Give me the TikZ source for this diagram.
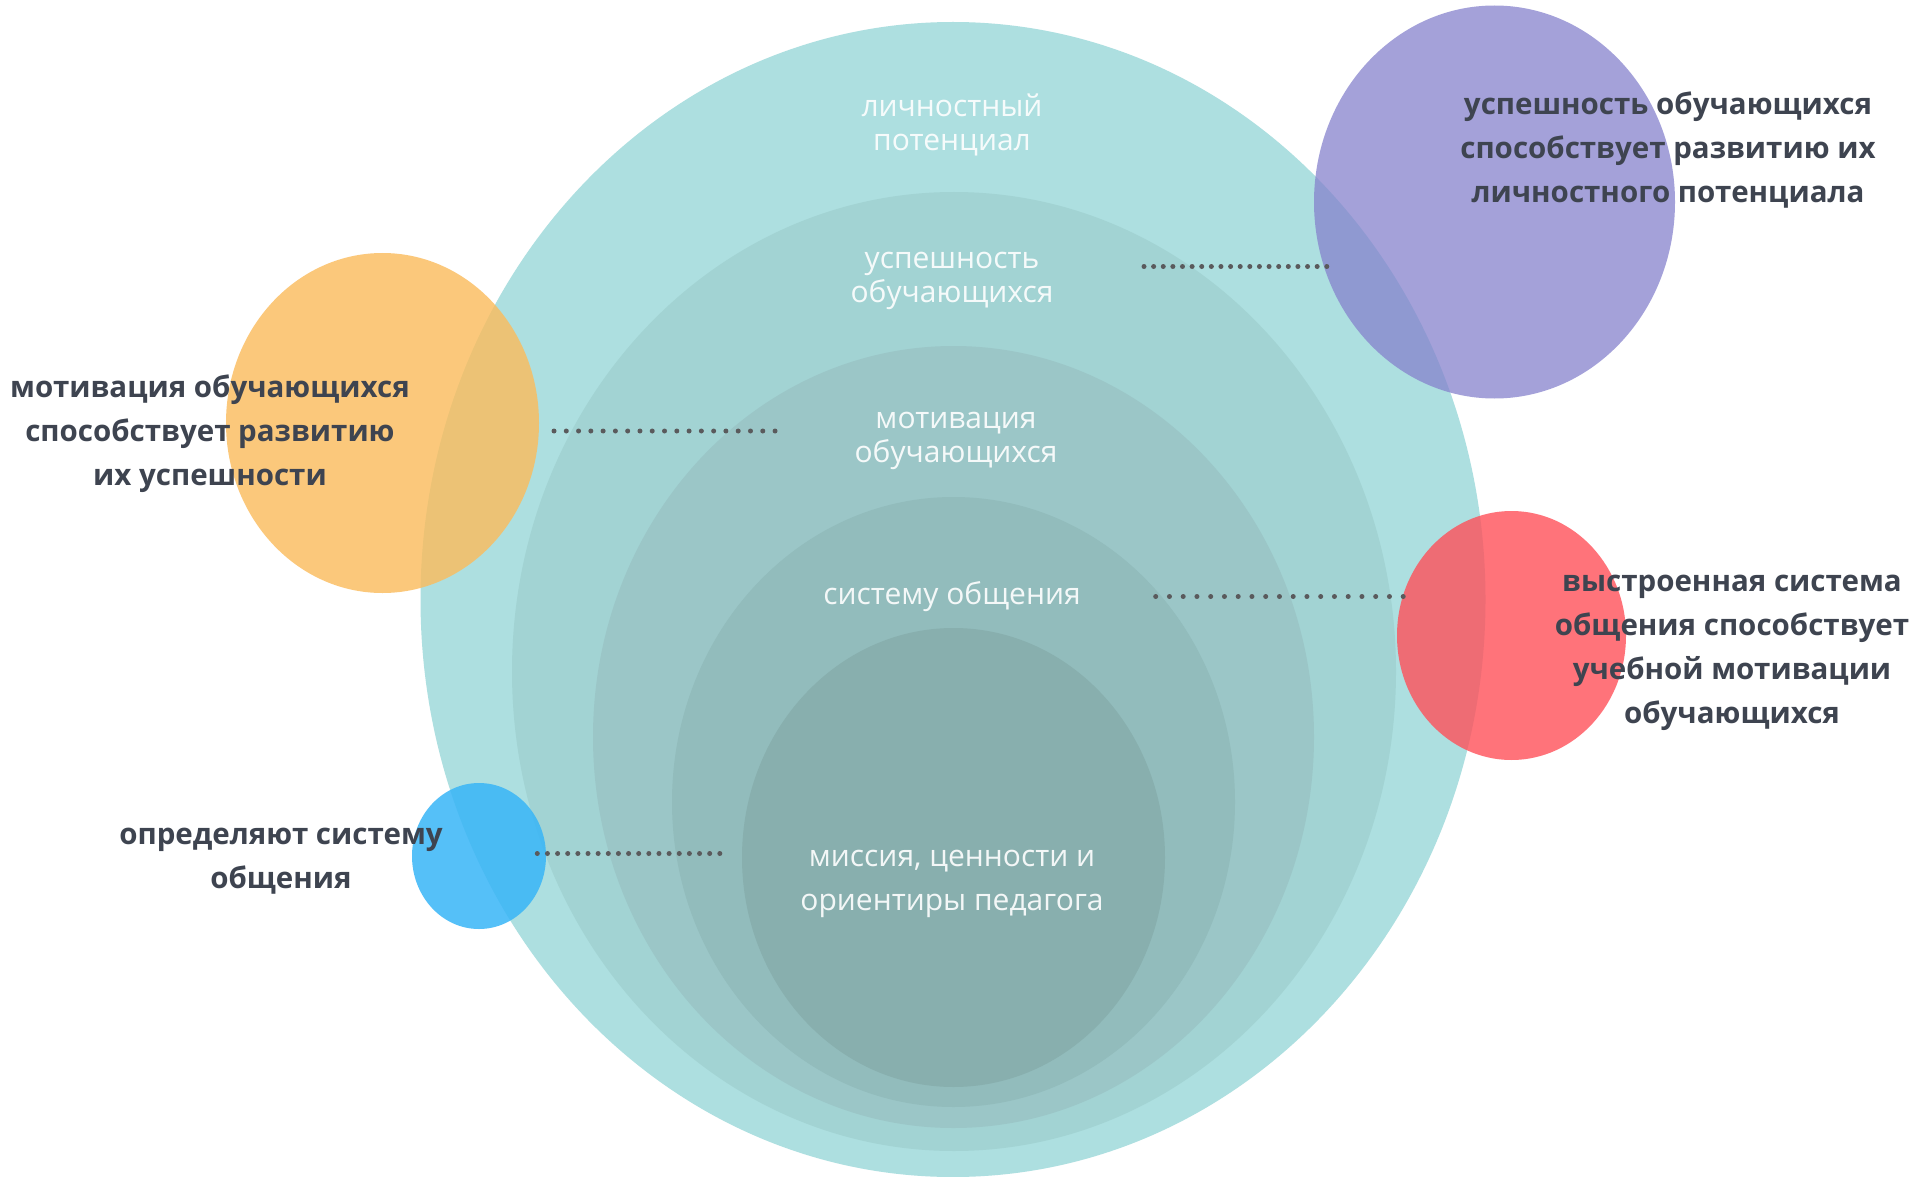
\documentclass[tikz,border=0pt]{standalone}
\usepackage{fontspec}
\setmainfont{Open Sans}
\usetikzlibrary{shapes.geometric}
\definecolor{lv1}{RGB}{173,223,224}
\definecolor{lv2}{RGB}{162,211,211}
\definecolor{lv3}{RGB}{155,198,199}
\definecolor{lv4}{RGB}{146,188,188}
\definecolor{lv5}{RGB}{136,175,174}
\definecolor{cpurple}{RGB}{134,130,205}
\definecolor{corange}{RGB}{251,188,93}
\definecolor{cred}{RGB}{255,80,89}
\definecolor{cblue}{RGB}{56,181,247}
\definecolor{txtdark}{RGB}{62,68,80}
\definecolor{dotgray}{RGB}{90,90,92}
\tikzset{
  blob/.style={ellipse, inner sep=0pt, outer sep=0pt, draw=none},
  dotline/.style={line width=5pt, line cap=round, dash pattern=on 0pt off #1pt, draw=dotgray},
  outlabel/.style={align=center, text=txtdark, font=\fontsize{29.5}{44}\selectfont\bfseries, inner sep=0pt},
  inlabel/.style={align=center, text=white, text opacity=0.9, font=\fontsize{30}{34}\selectfont, inner sep=0pt},
}
\begin{document}
\begin{tikzpicture}[x=1pt,y=-1pt]
\useasboundingbox (0,0) rectangle (1917,1177);
\fill[white] (0,0) rectangle (1917,1177);
% concentric levels
\node[blob, fill=lv1, minimum width=1065pt, minimum height=1155pt] (L1) at (953,599.5) {};
\node[blob, fill=lv2, minimum width=884pt, minimum height=959pt] (L2) at (954,671.5) {};
\node[blob, fill=lv3, minimum width=721pt, minimum height=782pt] (L3) at (953.5,737) {};
\node[blob, fill=lv4, minimum width=563pt, minimum height=610pt] (L4) at (953.5,802) {};
\node[blob, fill=lv5, minimum width=423pt, minimum height=459pt] (L5) at (953.5,857.5) {};
% side circles
\node[blob, fill=cpurple, fill opacity=0.75, minimum width=361pt, minimum height=393pt] (P) at (1494.5,202) {};
\node[blob, fill=corange, fill opacity=0.81, minimum width=313pt, minimum height=340pt] (O) at (382.5,423) {};
\node[blob, fill=cred, fill opacity=0.8, minimum width=229pt, minimum height=249pt] (R) at (1511.5,635.5) {};
\node[blob, fill=cblue, fill opacity=0.85, minimum width=134pt, minimum height=146pt] (B) at (479,856) {};
% connector ends
\coordinate (pa) at (1144,266.5);
\coordinate (pb) at (1327,266.5);
\coordinate (oa) at (554,431);
\coordinate (ob) at (775.3,431);
\coordinate (ra) at (1155.7,596.5);
\coordinate (rb) at (1403.3,596.5);
\coordinate (ba) at (537.3,853.5);
\coordinate (bb) at (720,853.5);
\draw[dotline=9.62] (pa) -- (pb);
\draw[dotline=12.28] (oa) -- (ob);
\draw[dotline=13.75] (ra) -- (rb);
\draw[dotline=10.14] (ba) -- (bb);
% inner labels
\node[inlabel] (t1) at (952,125) {личностный\\потенциал};
\node[inlabel] (t2) at (952,281) {успешность\\обучающихся};
\node[inlabel] (t3) at (956,440.5) {мотивация\\обучающихся};
\node[inlabel] (t4) at (952,597) {систему общения};
\node[inlabel, font=\fontsize{30}{44}\selectfont] (t5) at (952,884) {миссия, ценности и\\ориентиры педагога};
% outer labels
\node[outlabel] (s1) at (210,434) {мотивация обучающихся\\способствует развитию\\их успешности};
\node[outlabel] (s2) at (1668,150.5) {успешность обучающихся\\способствует развитию их\\личностного потенциала};
\node[outlabel] (s3) at (1732,653) {выстроенная система\\общения способствует\\учебной мотивации\\обучающихся};
\node[outlabel] (s4) at (281,861.5) {определяют систему\\общения};
\end{tikzpicture}
\end{document}
